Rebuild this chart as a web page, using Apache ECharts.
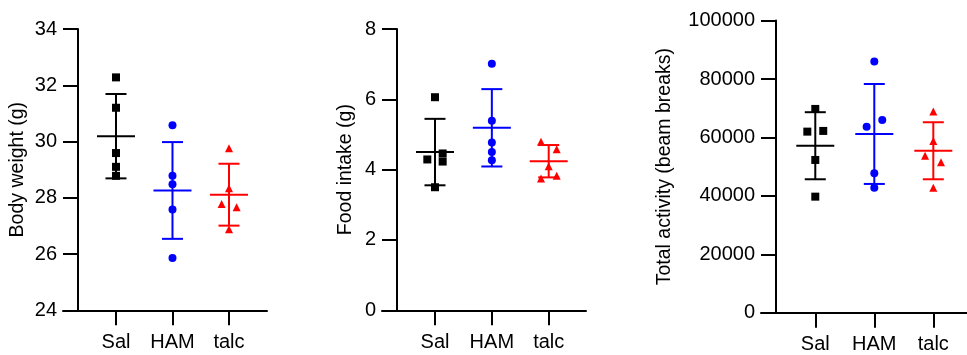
<!DOCTYPE html>
<html>
<head>
<meta charset="utf-8">
<script src="https://cdn.jsdelivr.net/npm/echarts@6/dist/echarts.min.js"></script>
<style>
html, body { margin: 0; padding: 0; background: #fff; }
#chart { width: 967px; height: 355px; }
</style>
</head>
<body>
<div id="chart"></div>
<script>
// groups on the x axis
const groups = ['Sal', 'HAM', 'talc']
const colors = ['#000000', '#0000ff', '#ff0000']
const symbols = ['rect', 'circle', 'triangle']

// body weight (g)
const bodySal = [32.28, 31.2, 29.59, 29.1, 28.78]
const bodyHam = [30.58, 28.78, 28.48, 27.58, 25.86]
const bodyTalc = [29.76, 28.34, 27.78, 27.66, 26.88]
const bodyJitSal = [0, 0, 0, 0, 0]
const bodyJitHam = [0, 0, 0, 0, 0]
const bodyJitTalc = [0, 0, -0.13, 0.135, 0]
const bodyMean = [30.19, 28.26, 28.11]
const bodySd = [1.5, 1.72, 1.1]

// food intake (g)
const foodSal = [6.06, 4.46, 4.29, 4.23, 3.5]
const foodHam = [7.01, 5.39, 4.77, 4.5, 4.27]
const foodTalc = [4.79, 4.58, 4.1, 3.83, 3.75]
const foodJitSal = [0, 0.135, -0.135, 0.135, 0]
const foodJitHam = [0, 0, 0, 0, 0]
const foodJitTalc = [-0.135, 0.14, 0, 0.14, -0.135]
const foodMean = [4.5, 5.19, 4.24]
const foodSd = [0.945, 1.1, 0.46]

// total activity (beam breaks)
const actSal = [69760, 61990, 62230, 52290, 39730]
const actHam = [85960, 63700, 66000, 47740, 42810]
const actTalc = [68840, 58800, 53770, 51510, 42810]
const actJitSal = [0, -0.135, 0.135, 0, 0]
const actJitHam = [0, -0.13, 0.135, 0, 0]
const actJitTalc = [0, 0, -0.14, 0.13, 0]
const actMean = [57160, 61190, 55440]
const actSd = [11480, 17110, 9760]

const panels = [
  { name: 'Body weight (g)', vals: [bodySal, bodyHam, bodyTalc], jit: [bodyJitSal, bodyJitHam, bodyJitTalc], mean: bodyMean, sd: bodySd,
    grid: { left: 63, top: 29, width: 204, height: 281.3 }, x: [0.062, 3.673], y: [24, 34, 2], nameGap: 50 },
  { name: 'Food intake (g)', vals: [foodSal, foodHam, foodTalc], jit: [foodJitSal, foodJitHam, foodJitTalc], mean: foodMean, sd: foodSd,
    grid: { left: 382, top: 29, width: 204, height: 281.3 }, x: [0.068, 3.656], y: [0, 8, 2], nameGap: 41 },
  { name: 'Total activity (beam breaks)', vals: [actSal, actHam, actTalc], jit: [actJitSal, actJitHam, actJitTalc], mean: actMean, sd: actSd,
    grid: { left: 761, top: 20.6, width: 206, height: 292.1 }, x: [0.08, 3.571], y: [0, 100000, 20000], nameGap: 101 }
]

const font = 'Arial, "Liberation Sans", Helvetica, sans-serif'
const chart = echarts.init(document.getElementById('chart'))

const grid = []
const xAxis = []
const yAxis = []
const series = []

panels.forEach(function (p, pi) {
  grid.push(Object.assign({ containLabel: false }, p.grid))
  xAxis.push({
    type: 'value',
    gridIndex: pi,
    min: p.x[0],
    max: p.x[1],
    splitLine: { show: false },
    axisLine: { onZero: false, lineStyle: { color: '#000', width: 2 } },
    axisTick: { customValues: [1, 2, 3], length: 15, lineStyle: { color: '#000', width: 2 } },
    axisLabel: {
      customValues: [1, 2, 3],
      formatter: function (v) { return groups[Math.round(v) - 1] },
      color: '#000', fontSize: 20, fontFamily: font, margin: 22
    }
  })
  yAxis.push({
    type: 'value',
    gridIndex: pi,
    min: p.y[0],
    max: p.y[1],
    interval: p.y[2],
    offset: -15,
    name: p.name,
    nameLocation: 'middle',
    nameRotate: 90,
    nameGap: p.nameGap,
    nameTextStyle: { color: '#000', fontSize: 19.5, fontFamily: font },
    splitLine: { show: false },
    axisLine: { show: true, onZero: false, lineStyle: { color: '#000', width: 2 } },
    axisTick: { show: true, length: 15, lineStyle: { color: '#000', width: 2 } },
    axisLabel: {
      formatter: function (v) { return String(v) },
      color: '#000', fontSize: 20, fontFamily: font, margin: 21
    }
  })
  // dots
  groups.forEach(function (g, gi) {
    series.push({
      type: 'scatter',
      xAxisIndex: pi,
      yAxisIndex: pi,
      symbol: symbols[gi],
      symbolSize: 8,
      itemStyle: { color: colors[gi], opacity: 1 },
      data: p.vals[gi].map(function (v, i) { return [gi + 1 + p.jit[gi][i], v] }),
      z: 2
    })
  })
  // mean and SD bars
  series.push({
    type: 'custom',
    xAxisIndex: pi,
    yAxisIndex: pi,
    encode: { x: 0, y: 1 },
    data: p.mean.map(function (m, gi) { return [gi + 1, m, p.sd[gi]] }),
    z: 3,
    renderItem: function (params, api) {
      const x = api.value(0)
      const m = api.value(1)
      const s = api.value(2)
      const c = api.coord([x, m])
      const hi = api.coord([x, m + s])
      const lo = api.coord([x, m - s])
      const style = { stroke: colors[params.dataIndex], lineWidth: 2 }
      const cap = 10.5
      const half = 19
      return {
        type: 'group',
        children: [
          { type: 'line', shape: { x1: c[0], y1: hi[1], x2: c[0], y2: lo[1] }, style: style },
          { type: 'line', shape: { x1: c[0] - cap, y1: hi[1], x2: c[0] + cap, y2: hi[1] }, style: style },
          { type: 'line', shape: { x1: c[0] - cap, y1: lo[1], x2: c[0] + cap, y2: lo[1] }, style: style },
          { type: 'line', shape: { x1: c[0] - half, y1: c[1], x2: c[0] + half, y2: c[1] }, style: style }
        ]
      }
    }
  })
})

chart.setOption({
  animation: false,
  backgroundColor: '#fff',
  grid: grid,
  xAxis: xAxis,
  yAxis: yAxis,
  series: series
})
</script>
</body>
</html>
